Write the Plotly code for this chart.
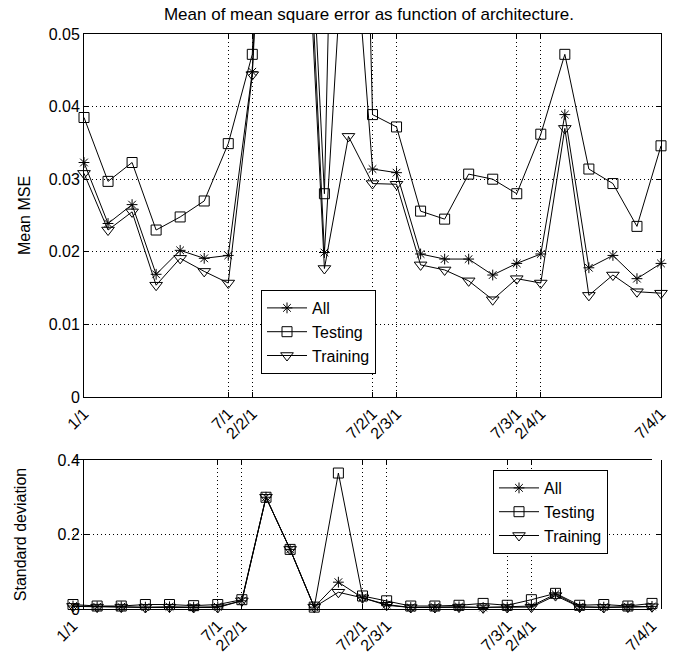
import plotly.graph_objects as go

# architecture labels (25 architectures)
archs = ["1/1", "2/1", "3/1", "4/1", "5/1", "6/1", "7/1",
         "2/2/1", "3/2/1", "4/2/1", "5/2/1", "6/2/1", "7/2/1",
         "2/3/1", "3/3/1", "4/3/1", "5/3/1", "6/3/1", "7/3/1",
         "2/4/1", "3/4/1", "4/4/1", "5/4/1", "6/4/1", "7/4/1"]
tick_labels = ["1/1", "7/1", "2/2/1", "7/2/1", "2/3/1", "7/3/1", "2/4/1", "7/4/1"]

all_mean = [0.0323, 0.0239, 0.0265, 0.0169, 0.0202, 0.0191, 0.0195, 0.0448, 0.120, 0.090,
            0.0199, 0.075, 0.0314, 0.0309, 0.0197, 0.0190, 0.0190, 0.0168, 0.0184, 0.0197,
            0.0389, 0.0178, 0.0195, 0.0163, 0.0184]
test_mean = [0.0385, 0.0297, 0.0323, 0.0230, 0.0248, 0.0270, 0.0349, 0.0472, 0.130, 0.095,
             0.0280, 0.170, 0.0389, 0.0372, 0.0256, 0.0245, 0.0307, 0.0300, 0.0280, 0.0362,
             0.0472, 0.0314, 0.0294, 0.0235, 0.0346]
train_mean = [0.0308, 0.0230, 0.0255, 0.0154, 0.0191, 0.0173, 0.0157, 0.0444, 0.110, 0.085,
              0.0177, 0.0359, 0.0294, 0.0293, 0.0182, 0.0175, 0.0160, 0.0134, 0.0163, 0.0157,
              0.0370, 0.0140, 0.0168, 0.0145, 0.0143]

all_std = [0.008, 0.006, 0.006, 0.005, 0.006, 0.005, 0.006, 0.022, 0.300, 0.160,
           0.005, 0.072, 0.030, 0.012, 0.004, 0.005, 0.006, 0.004, 0.005, 0.008,
           0.040, 0.006, 0.005, 0.006, 0.007]
test_std = [0.012, 0.008, 0.008, 0.012, 0.012, 0.009, 0.012, 0.025, 0.300, 0.160,
            0.005, 0.365, 0.035, 0.022, 0.008, 0.008, 0.010, 0.015, 0.010, 0.025,
            0.042, 0.010, 0.012, 0.008, 0.015]
train_std = [0.007, 0.005, 0.005, 0.004, 0.005, 0.004, 0.004, 0.022, 0.300, 0.160,
             0.005, 0.045, 0.030, 0.010, 0.004, 0.004, 0.005, 0.003, 0.004, 0.005,
             0.036, 0.005, 0.004, 0.005, 0.006]

FONT = "Liberation Sans, Arial, sans-serif"
styles = [("All", "asterisk-open", 9), ("Testing", "square-open", 10), ("Training", "triangle-down-open", 11)]

fig = go.Figure()
for (name, sym, sz), ys in zip(styles, [all_mean, test_mean, train_mean]):
    fig.add_trace(go.Scatter(x=archs, y=ys, name=name, mode="lines+markers",
                             line=dict(color="black", width=1),
                             marker=dict(symbol=sym, size=sz, color="black",
                                         line=dict(color="black", width=1)),
                             cliponaxis=False, xaxis="x", yaxis="y", legend="legend"))
for (name, sym, sz), ys in zip(styles, [all_std, test_std, train_std]):
    fig.add_trace(go.Scatter(x=archs, y=ys, name=name, mode="lines+markers",
                             line=dict(color="black", width=1),
                             marker=dict(symbol=sym, size=sz, color="black",
                                         line=dict(color="black", width=1)),
                             cliponaxis=False, xaxis="x2", yaxis="y2", legend="legend2"))

W, H = 681, 654
axis_common = dict(showline=True, linecolor="black", linewidth=1, mirror="ticks",
                   ticks="inside", ticklen=5, tickcolor="black",
                   showgrid=True, gridcolor="black", griddash="1px,3px", gridwidth=1,
                   zeroline=False, tickfont=dict(family=FONT, size=16, color="black"),
                   automargin=False)

xcommon = dict(axis_common, tickmode="array", tickvals=tick_labels, ticktext=tick_labels,
               tickangle=-45, range=[0, len(archs) - 1], type="category",
               categoryorder="array", categoryarray=archs)

fig.update_layout(
    width=W, height=H,
    margin=dict(l=0, r=0, t=0, b=0),
    paper_bgcolor="white", plot_bgcolor="white",
    font=dict(family=FONT, size=16, color="black"),
    title=dict(text="Mean of mean square error as function of architecture.",
               x=369 / W, xanchor="center", y=1 - 14 / H, yanchor="middle",
               font=dict(family=FONT, size=17, color="black")),
    xaxis=dict(xcommon, domain=[84 / W, 661 / W], anchor="y"),
    yaxis=dict(axis_common, domain=[1 - 397 / H, 1 - 34 / H], range=[0, 0.05],
               tickvals=[0, 0.01, 0.02, 0.03, 0.04, 0.05],
               ticktext=["0", "0.01", "0.02", "0.03", "0.04", "0.05"],
               title=dict(text="Mean MSE", standoff=14, font=dict(family=FONT, size=16))),
    xaxis2=dict(xcommon, domain=[73 / W, 652 / W], anchor="y2"),
    yaxis2=dict(axis_common, domain=[1 - 609 / H, 1 - 460 / H], range=[0, 0.4],
                tickvals=[0, 0.2, 0.4], ticktext=["0", "0.2", "0.4"],
                title=dict(text="Standard deviation", standoff=26, font=dict(family=FONT, size=16))),
    legend=dict(x=261 / W, y=1 - 290 / H, xanchor="left", yanchor="top",
                bgcolor="white", bordercolor="black", borderwidth=1,
                font=dict(family=FONT, size=16, color="black"), itemwidth=40),
    legend2=dict(x=493 / W, y=1 - 470 / H, xanchor="left", yanchor="top",
                 bgcolor="white", bordercolor="black", borderwidth=1,
                 font=dict(family=FONT, size=16, color="black"), itemwidth=40),
    showlegend=True,
)

fig.write_html("out.html")
